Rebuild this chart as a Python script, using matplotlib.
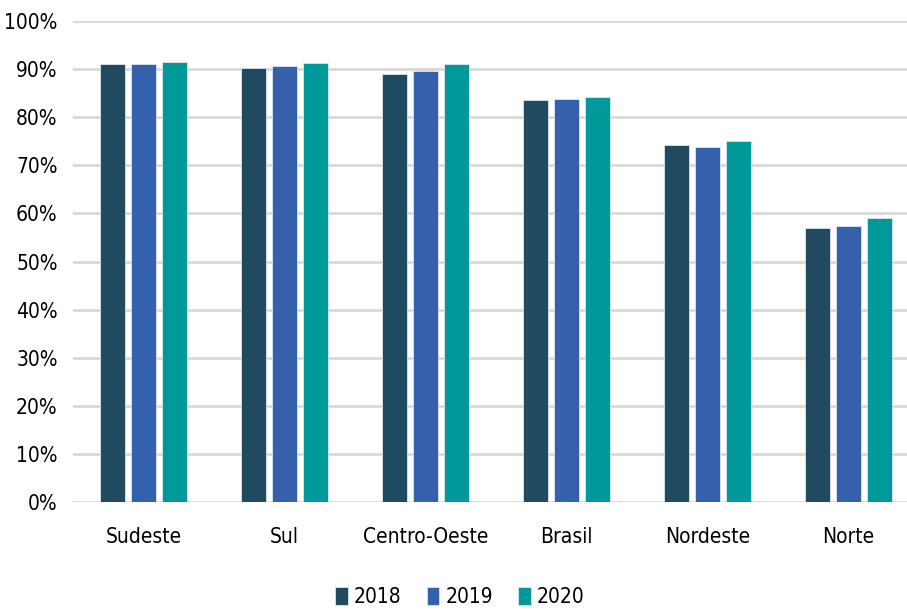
import matplotlib
matplotlib.use("Agg")
import matplotlib.pyplot as plt
import numpy as np

categories = ["Sudeste", "Sul", "Centro-Oeste", "Brasil", "Nordeste", "Norte"]
years = ["2018", "2019", "2020"]
v2018 = [91.0, 90.2, 89.0, 83.6, 74.2, 57.0]
v2019 = [91.1, 90.6, 89.7, 83.7, 73.9, 57.4]
v2020 = [91.5, 91.2, 91.1, 84.3, 75.1, 59.0]
colors = ["#1F4A5F", "#3560AC", "#00999A"]

plt.rcParams['font.family'] = ['DejaVu Sans']
plt.rcParams['font.stretch'] = 'condensed'

fig = plt.figure(figsize=(9.07, 6.10), dpi=100)
ax = fig.add_axes([73/907, (610-502)/610, (907-73)/907, (502-21)/610])

x = np.arange(len(categories))
step = 0.22
w = 0.18
for i, (vals, c, yr) in enumerate(zip([v2018, v2019, v2020], colors, years)):
    ax.bar(x + (i - 1) * step, vals, width=w, color=c, edgecolor="#dfe6ee", linewidth=0.6, label=yr, zorder=3)

ax.set_ylim(0, 100)
ax.set_xlim(-0.5, 5.5 - 12/141)
ax.set_yticks(np.arange(0, 101, 10))
ax.set_yticklabels([f"{t}%" for t in range(0, 101, 10)], fontsize=15, fontstretch='condensed')
ax.set_xticks(x)
ax.set_xticklabels(categories, fontsize=15, fontstretch='condensed')
ax.tick_params(axis='both', length=0)
ax.tick_params(axis='x', pad=18)
ax.tick_params(axis='y', pad=11)
ax.grid(axis='y', color="#D9D9D9", linewidth=2, zorder=0)
for s in ax.spines.values():
    s.set_visible(False)

leg = fig.legend(loc="center", bbox_to_anchor=(460/907, 1 - 597/610), ncol=3, frameon=False,
                 prop={'size': 15, 'stretch': 'condensed'}, handlelength=0.6, handleheight=1.0,
                 handletextpad=0.3, columnspacing=1.2)

fig.savefig("out.png", dpi=100)
